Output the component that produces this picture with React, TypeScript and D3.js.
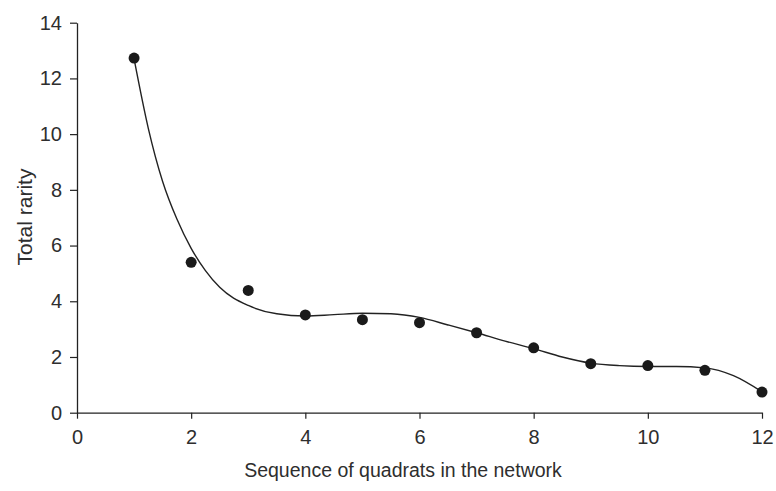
import React, { useRef, useEffect } from "react";
import * as d3 from "d3";

// observed points
const quadrat = [1, 2, 3, 4, 5, 6, 7, 8, 9, 10, 11, 12];
const rarity = [12.73, 5.4, 4.39, 3.51, 3.34, 3.23, 2.87, 2.33, 1.76, 1.69, 1.52, 0.74];

// fitted trend line
const trendX = [1, 1.25, 1.5, 1.75, 2, 2.25, 2.5, 3, 3.5, 4, 4.5, 5, 5.5, 6, 6.5, 7, 7.5, 8, 8.5, 9, 9.5, 10, 10.5, 11, 11.5, 12];
const trendY = [12.7, 10.2, 8.3, 6.95, 5.9, 5.1, 4.5, 3.85, 3.55, 3.47, 3.52, 3.57, 3.55, 3.42, 3.15, 2.87, 2.57, 2.3, 2.0, 1.78, 1.69, 1.66, 1.66, 1.61, 1.33, 0.75];

const xTicks = [0, 2, 4, 6, 8, 10, 12];
const yTicks = [0, 2, 4, 6, 8, 10, 12, 14];

const W = 776;
const H = 491;
const FONT = "'Liberation Sans', Arial, sans-serif";
const INK = "#222";
const TEXT = "#2e2e2e";

export default function App() {
  const svgRef = useRef<SVGSVGElement>(null);

  useEffect(() => {
    const svg = d3.select(svgRef.current);
    svg.selectAll("*").remove();

    const x = d3.scaleLinear().domain([0, 12]).range([77, 762]);
    const y = d3.scaleLinear().domain([0, 14]).range([412.7, 22.7]);

    // axes
    const xAxis = svg
      .append("g")
      .attr("transform", `translate(0,${y(0)})`)
      .call(d3.axisBottom(x).tickValues(xTicks).tickSize(6).tickSizeOuter(0).tickPadding(11));
    const yAxis = svg
      .append("g")
      .attr("transform", `translate(${x(0)},0)`)
      .call(d3.axisLeft(y).tickValues(yTicks).tickSize(7).tickSizeOuter(0).tickPadding(8));

    [xAxis, yAxis].forEach(g => {
      g.select(".domain").attr("stroke", INK).attr("stroke-width", 1.3);
      g.selectAll(".tick line").attr("stroke", INK).attr("stroke-width", 1.2);
      g.selectAll(".tick text")
        .attr("fill", TEXT)
        .style("font-family", FONT)
        .style("font-size", "20px");
    });

    // trend curve (monotoneX uses the real x spacing)
    const line = d3
      .line<number>()
      .x((d, i) => x(trendX[i]))
      .y(d => y(d))
      .curve(d3.curveMonotoneX);
    svg
      .append("path")
      .datum(trendY)
      .attr("d", line)
      .attr("fill", "none")
      .attr("stroke", INK)
      .attr("stroke-width", 1.4);

    // points
    svg
      .selectAll(".dot")
      .data(rarity)
      .join("circle")
      .attr("class", "dot")
      .attr("cx", (d, i) => x(quadrat[i]))
      .attr("cy", d => y(d))
      .attr("r", 5.5)
      .attr("fill", "#1a1a1a");

    // axis titles
    svg
      .append("text")
      .attr("x", 403)
      .attr("y", 477)
      .attr("text-anchor", "middle")
      .attr("fill", TEXT)
      .style("font-family", FONT)
      .style("font-size", "19.5px")
      .text("Sequence of quadrats in the network");

    svg
      .append("text")
      .attr("transform", `translate(32,217) rotate(-90)`)
      .attr("text-anchor", "middle")
      .attr("fill", TEXT)
      .style("font-family", FONT)
      .style("font-size", "21px")
      .text("Total rarity");
  }, []);

  return (
    <svg
      ref={svgRef}
      width={W}
      height={H}
      style={{ position: "absolute", left: 0, top: 0, background: "#fff" }}
    ></svg>
  );
}
